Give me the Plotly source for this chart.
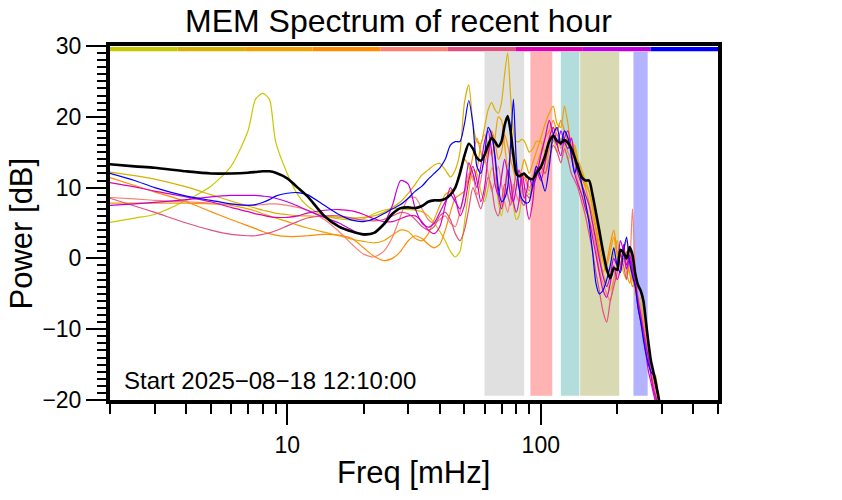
import numpy as np
import plotly.graph_objects as go

FREQ = [2, 2.5, 3, 4, 5, 6, 7, 7.5, 8, 8.5, 9, 10, 11, 12, 14, 16, 18, 20, 22, 24,
        26, 28, 30, 32, 34, 36, 38, 40, 42, 44, 46, 48, 50, 52, 54, 56, 58, 60, 62, 64,
        66, 68, 70, 72, 74, 76, 78, 80, 82, 84, 86, 88, 90, 93, 96, 100, 104, 108, 112, 116,
        120, 124, 128, 132, 136, 140, 145, 150, 155, 160, 165, 170, 176, 182, 188, 194, 200, 206, 212, 218,
        224, 230, 236, 242, 248, 254, 260, 266, 272, 278, 284, 290, 296, 302]

S1 = [5.1, 5.7, 6.2, 8.2, 10.2, 13.0, 18.0, 22.5, 23.3, 22.5, 16.5, 12.0, 9.0, 7.4, 6.0, 5.6, 5.4, 5.6, 6.3, 6.8,
      7.0, 7.0, 6.9, 6.8, 6.6, 6.0, 5.0, 3.8, 2.5, 1.0, 0.2, 1.0, 5.0, 9.5, 12.5, 12.0, 9.5, 8.0, 10.0, 12.8,
      11.5, 8.0, 6.0, 9.0, 13.0, 11.0, 7.5, 5.5, 6.0, 8.5, 10.0, 9.5, 9.0, 10.5, 12.0, 13.0, 12.0, 15.5, 17.0, 15.0,
      17.0, 16.0, 14.0, 15.0, 13.5, 12.0, 10.0, 8.0, 6.0, 5.0, 3.0, 0.5, -2.0, -3.5, -4.5, -3.0, -1.5, -0.5, -2.0, -3.0,
      -1.0, -2.0, -4.0, -6.0, -5.5, -8.0, -10.0, -13.0, -15.5, -17.5, -16.5, -19.5, -22, -25]
S2 = [12.2, 11.7, 11.2, 10.1, 9.0, 8.1, 7.4, 7.1, 6.8, 6.6, 6.4, 6.2, 6.0, 6.0, 5.9, 5.8, 5.7, 5.8, 6.0, 6.5,
      7.2, 8.0, 9.2, 10.5, 11.8, 12.5, 13.2, 13.4, 12.5, 11.5, 12.5, 15.0, 22.0, 24.5, 19.0, 16.5, 16.2, 18.5, 21.0, 22.0,
      21.0, 20.5, 22.0, 26.0, 29.0, 23.0, 18.0, 16.5, 16.5, 16.8, 16.6, 15.8, 15.0, 15.5, 16.5, 16.5, 15.0, 17.0, 18.5, 17.5,
      16.5, 18.0, 17.0, 15.5, 16.0, 14.0, 12.5, 11.0, 9.5, 7.0, 4.5, 2.0, -0.5, -2.0, -1.5, 0.5, 2.5, 0.5, -0.5, 1.0,
      -1.0, -3.0, -4.5, -6.5, -8.0, -9.5, -11.5, -13.0, -15.0, -16.5, -18.5, -21, -23, -25]
S3 = [7.8, 7.8, 7.8, 7.8, 7.7, 7.5, 7.0, 6.7, 6.3, 6.0, 5.7, 5.2, 4.7, 4.3, 3.7, 3.2, 2.7, 2.4, 2.2, 2.5,
      3.3, 4.0, 3.8, 2.8, 2.5, 3.5, 5.5, 7.5, 9.0, 9.5, 10.0, 12.5, 14.0, 13.0, 11.0, 12.5, 16.0, 17.5, 16.0, 14.5,
      17.0, 20.0, 19.5, 16.0, 13.0, 14.5, 15.5, 13.0, 11.5, 12.5, 14.0, 13.0, 12.0, 13.5, 15.0, 17.0, 19.0, 20.5, 21.5, 19.0,
      18.5, 21.5, 19.0, 16.0, 15.5, 13.5, 12.0, 10.5, 9.5, 7.5, 5.5, 3.0, 0.5, -1.0, 1.0, 3.0, 0.5, -1.5, 0.0, -2.0,
      -3.5, -2.5, -5.0, -6.0, -7.5, -9.0, -10.5, -13.0, -14.5, -17.0, -18.0, -20.5, -23, -25]
S4 = [11.4, 10.3, 9.4, 8.0, 6.6, 5.5, 4.6, 4.2, 3.8, 3.5, 3.3, 3.1, 3.1, 3.2, 3.4, 3.3, 2.8, 1.5, 0.3, -0.3,
      0.0, 1.0, 2.5, 3.2, 2.8, 2.0, 1.5, 2.0, 4.0, 6.5, 8.5, 9.0, 9.5, 11.5, 14.5, 17.0, 15.0, 13.5, 15.5, 18.0,
      16.5, 14.0, 15.0, 17.5, 16.0, 14.0, 12.5, 11.0, 10.0, 10.5, 12.0, 11.0, 10.0, 11.0, 13.0, 15.0, 17.0, 18.0, 19.5, 18.0,
      19.5, 18.0, 16.5, 17.0, 15.0, 13.0, 11.5, 10.0, 8.0, 6.0, 4.0, 1.0, -2.0, -0.5, 2.0, 4.0, 1.0, -1.0, 1.5, 0.0,
      -2.0, -4.0, -3.0, -5.5, -7.0, -9.5, -11.0, -14.0, -15.0, -17.5, -19.0, -21, -23, -25]
S5 = [8.6, 8.4, 8.2, 8.0, 7.8, 7.6, 7.5, 7.5, 7.6, 7.7, 7.7, 7.5, 7.2, 6.8, 5.5, 3.8, 2.0, 0.6, 0.2, 1.0,
      3.0, 6.0, 8.5, 8.6, 7.0, 5.5, 5.0, 5.5, 6.0, 5.0, 4.5, 6.5, 9.0, 12.0, 11.5, 9.0, 11.0, 14.0, 12.0, 9.5,
      11.0, 13.0, 10.5, 8.0, 6.5, 8.5, 10.5, 9.0, 8.0, 9.5, 11.5, 10.5, 9.5, 11.5, 13.0, 12.0, 13.5, 15.5, 16.5, 17.5,
      15.5, 17.0, 15.0, 14.0, 12.5, 11.0, 9.0, 7.5, 5.5, 4.0, 1.5, -1.5, -3.5, -5.0, -6.0, -3.0, -1.0, -2.0, 1.0, 2.5,
      -1.0, 7.0, -2.0, -5.5, -7.0, -9.0, -11.0, -13.5, -16.0, -17.0, -19.0, -21, -23, -25]
S6 = [8.5, 7.4, 6.5, 5.0, 4.0, 3.4, 3.2, 3.2, 3.4, 3.6, 3.9, 4.6, 5.2, 5.7, 6.0, 6.0, 5.7, 5.4, 5.3, 5.5,
      6.0, 6.5, 6.3, 5.5, 4.5, 4.0, 4.5, 6.0, 6.5, 5.5, 3.5, 2.5, 4.0, 7.0, 10.0, 8.5, 7.0, 9.0, 11.5, 10.0,
      7.0, 6.0, 8.0, 10.5, 9.0, 7.5, 9.5, 12.0, 10.5, 8.0, 7.5, 9.0, 8.5, 10.0, 12.5, 13.0, 12.0, 14.0, 16.0, 15.0,
      13.5, 15.5, 14.0, 12.0, 11.0, 10.0, 8.0, 6.0, 3.5, 1.0, -2.0, -4.5, -7.5, -9.0, -6.0, -4.0, -2.0, 0.5, -1.0, -3.0,
      1.5, -1.0, -3.0, -6.0, -8.5, -10.0, -12.0, -14.5, -16.5, -18.0, -20.0, -22, -24, -26]
S7 = [10.7, 10.1, 9.5, 8.7, 8.0, 7.2, 6.6, 6.3, 6.1, 5.9, 5.8, 5.8, 6.0, 6.4, 6.8, 6.9, 6.7, 6.2, 5.6, 5.2,
      5.2, 5.6, 6.0, 6.0, 5.2, 4.0, 3.5, 4.5, 7.5, 10.0, 8.5, 6.0, 7.5, 11.0, 13.0, 11.0, 8.0, 10.0, 14.5, 17.5,
      14.0, 9.0, 7.0, 9.0, 12.5, 11.0, 8.0, 6.5, 8.0, 12.0, 10.5, 7.0, 5.5, 8.0, 12.5, 11.0, 13.5, 17.0, 18.5, 16.0,
      14.5, 17.0, 18.0, 15.0, 12.0, 10.5, 9.0, 7.0, 5.5, 3.0, 0.5, -2.0, -4.5, -5.5, -3.5, -1.0, -3.0, -1.5, 2.0, -1.0,
      0.5, -1.5, -4.0, -7.0, -9.0, -11.0, -13.5, -16.0, -17.5, -19.0, -20.5, -22, -24, -26]
S8 = [7.5, 7.7, 7.9, 8.3, 8.7, 8.9, 8.9, 8.9, 8.8, 8.7, 8.5, 8.0, 7.4, 6.8, 5.8, 5.0, 4.0, 3.3, 3.6, 4.8,
      7.5, 11.0, 10.5, 7.0, 5.0, 4.4, 5.0, 6.5, 8.0, 9.0, 8.0, 7.0, 9.5, 13.5, 12.0, 10.0, 13.0, 16.5, 18.0, 15.0,
      10.5, 9.0, 11.5, 14.0, 12.0, 9.0, 8.0, 10.0, 12.5, 11.0, 8.5, 9.5, 11.5, 10.0, 11.5, 14.5, 17.0, 19.5, 17.5, 16.0,
      18.0, 16.5, 15.5, 17.0, 14.0, 12.0, 10.5, 9.0, 7.5, 5.0, 2.5, 0.0, -2.5, -4.0, -2.5, 0.0, -1.0, 2.5, 1.0, -1.5,
      0.0, -2.0, -3.5, -6.0, -8.0, -10.5, -12.5, -14.0, -16.5, -18.5, -19.5, -21, -23, -25]
S9 = [12.0, 11.0, 10.0, 8.8, 8.2, 7.7, 7.5, 7.6, 7.9, 8.3, 8.8, 9.2, 9.3, 9.0, 7.5, 6.2, 5.4, 5.2, 5.6, 6.3,
      7.0, 7.6, 8.5, 9.5, 10.2, 11.2, 12.0, 12.8, 14.0, 16.0, 16.5, 16.5, 19.0, 22.3, 19.0, 13.0, 12.0, 14.5, 18.5, 17.5,
      14.5, 10.0, 8.0, 8.5, 10.0, 16.0, 22.5, 14.0, 10.0, 8.5, 8.0, 7.8, 8.0, 10.5, 13.0, 11.5, 9.5, 13.0, 17.5, 18.5,
      16.0, 18.0, 17.0, 14.5, 12.0, 13.5, 10.5, 8.0, 5.0, 1.0, -3.5, -5.0, -4.5, -3.0, -1.0, 1.5, -1.0, -2.0, 1.0, 3.0,
      -0.5, -2.5, -4.0, -7.0, -9.0, -11.5, -13.5, -15.0, -16.0, -16.5, -18.0, -19.5, -21.5, -24]
MEAN = [13.3, 13.0, 12.8, 12.3, 12.0, 12.0, 12.1, 12.2, 12.3, 12.3, 12.1, 11.3, 10.0, 8.8, 6.0, 4.5, 3.8, 3.4, 3.6, 4.8,
        6.3, 7.1, 7.2, 7.1, 7.4, 8.0, 8.2, 8.2, 8.4, 9.0, 10.0, 12.0, 14.5, 16.2, 15.5, 14.2, 13.8, 14.6, 16.0, 17.0,
        16.5, 15.8, 16.5, 18.8, 20.1, 18.0, 14.5, 12.0, 11.6, 11.8, 12.0, 11.6, 11.3, 11.2, 12.0, 12.9, 14.5, 16.5, 17.3, 16.6,
        16.3, 16.7, 16.3, 15.5, 14.3, 12.9, 11.5, 11.0, 11.0, 9.0, 6.5, 4.0, 1.0, -1.5, -2.8, -1.4, -1.6, 1.2, 0.8, 0.0,
        1.6, 0.5, -2.2, -3.8, -4.6, -6.0, -9.0, -12.0, -14.5, -16.0, -17.5, -19.2, -21, -23]

SERIES = [S1, S2, S3, S4, S5, S6, S7, S8, S9]
COLORS = ["#c8c800", "#dab000", "#f0a000", "#ff8c00", "#fa8072",
          "#e0507e", "#e000b4", "#c000e0", "#0000ff"]

BAND_LO = [60, 91, 120, 143, 232]
BAND_HI = [86, 111, 142, 204, 264]
BAND_COLORS = ["#e0e0e0", "#ffb3b3", "#b3dcdc", "#d9d9b3", "#b3b3ff"]

X_TICKS = [10, 100]
X_MINOR = [2, 3, 4, 5, 6, 7, 8, 9, 20, 30, 40, 50, 60, 70, 80, 90, 200, 300, 400, 500]
Y_TICKS = [-20, -10, 0, 10, 20, 30]

FONT = "Liberation Sans, Arial, sans-serif"

fig = go.Figure()

for lo, hi, c in zip(BAND_LO, BAND_HI, BAND_COLORS):
    fig.add_shape(type="rect", xref="x", yref="y", x0=lo, x1=hi,
                  y0=-19.4, y1=29.2, fillcolor=c, line_width=0, layer="below")

n = len(COLORS)
for i, c in enumerate(COLORS):
    fig.add_shape(type="rect", xref="paper", yref="y", x0=i / n, x1=(i + 1) / n,
                  y0=29.25, y1=29.85, fillcolor=c, line_width=0, layer="above")

for s, c in zip(SERIES, COLORS):
    fig.add_trace(go.Scatter(x=FREQ, y=s, mode="lines",
                             line=dict(color=c, width=1.2, shape="spline", smoothing=0.7),
                             hoverinfo="skip", showlegend=False))
fig.add_trace(go.Scatter(x=FREQ, y=MEAN, mode="lines",
                         line=dict(color="black", width=2.6, shape="spline", smoothing=0.7),
                         hoverinfo="skip", showlegend=False))

fig.update_layout(
    width=842, height=500,
    margin=dict(l=110, r=124, t=46, b=100),
    paper_bgcolor="white", plot_bgcolor="white",
    font=dict(family=FONT, color="black", size=23),
    showlegend=False,
)
fig.update_xaxes(type="log", range=[np.log10(2), np.log10(500)], automargin=False,
                 showline=True, linewidth=4, linecolor="black", mirror=True,
                 showgrid=False, zeroline=False,
                 tickmode="array", tickvals=X_TICKS, ticktext=[str(v) for v in X_TICKS],
                 ticks="outside", ticklen=21, tickwidth=2, tickcolor="black",
                 tickfont=dict(size=23),
                 minor=dict(tickmode="array", tickvals=X_MINOR, ticks="outside",
                            ticklen=10, tickwidth=2, tickcolor="black", showgrid=False))
fig.update_yaxes(range=[-20, 30], automargin=False,
                 showline=True, linewidth=4, linecolor="black", mirror=True,
                 showgrid=False, zeroline=False,
                 tickmode="array", tickvals=Y_TICKS,
                 ticks="outside", ticklen=20, tickwidth=2, tickcolor="black",
                 tickfont=dict(size=23),
                 minor=dict(dtick=1, ticks="outside", ticklen=9, tickwidth=1.5,
                            tickcolor="black", showgrid=False))

fig.add_annotation(text="MEM Spectrum of recent hour", xref="paper", yref="paper",
                   x=0.4745, y=1.072, xanchor="center", yanchor="middle",
                   showarrow=False, font=dict(size=32))
fig.add_annotation(text="Freq [mHz]", xref="paper", yref="paper",
                   x=0.499, y=-0.205, xanchor="center", yanchor="middle",
                   showarrow=False, font=dict(size=31))
fig.add_annotation(text="Power [dB]", xref="paper", yref="paper", textangle=-90,
                   x=-0.145, y=0.47, xanchor="center", yanchor="middle",
                   showarrow=False, font=dict(size=31))
fig.add_annotation(text="Start 2025\u221208\u221218 12:10:00", xref="paper", yref="paper",
                   x=0.0197, y=0.055, xanchor="left", yanchor="middle",
                   showarrow=False, font=dict(size=24))

# remove the browser's default 8px body margin so the 842x500 figure fills the window
fig.write_html("out.html", config={"displayModeBar": False},
               post_script="document.body.style.margin='0';document.body.style.overflow='hidden';")
